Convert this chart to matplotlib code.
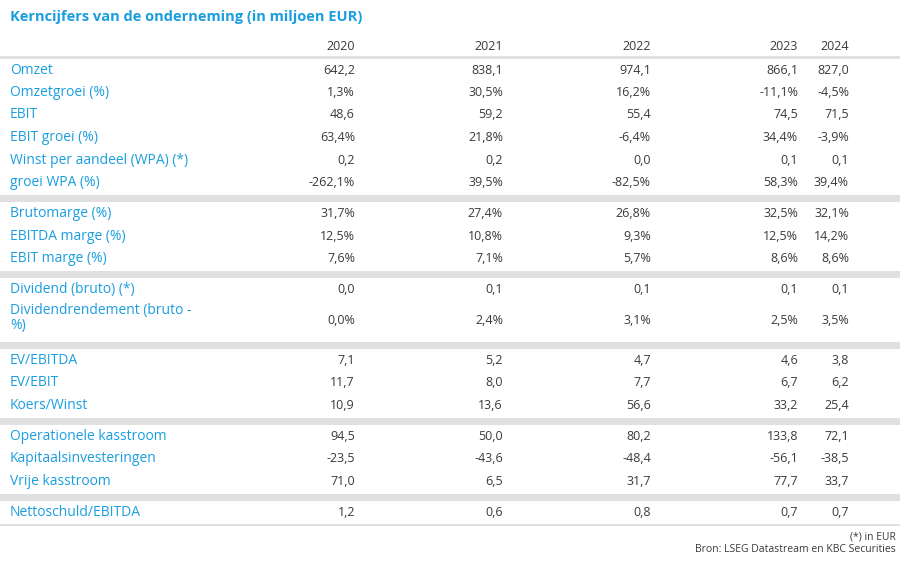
import matplotlib.pyplot as plt
from matplotlib.patches import Rectangle

years = ["2020", "2021", "2022", "2023", "2024"]
groups = [
    [("Omzet", ["642,2", "838,1", "974,1", "866,1", "827,0"]),
     ("Omzetgroei (%)", ["1,3%", "30,5%", "16,2%", "-11,1%", "-4,5%"]),
     ("EBIT", ["48,6", "59,2", "55,4", "74,5", "71,5"]),
     ("EBIT groei (%)", ["63,4%", "21,8%", "-6,4%", "34,4%", "-3,9%"]),
     ("Winst per aandeel (WPA) (*)", ["0,2", "0,2", "0,0", "0,1", "0,1"]),
     ("groei WPA (%)", ["-262,1%", "39,5%", "-82,5%", "58,3%", "39,4%"])],
    [("Brutomarge (%)", ["31,7%", "27,4%", "26,8%", "32,5%", "32,1%"]),
     ("EBITDA marge (%)", ["12,5%", "10,8%", "9,3%", "12,5%", "14,2%"]),
     ("EBIT marge (%)", ["7,6%", "7,1%", "5,7%", "8,6%", "8,6%"])],
    [("Dividend (bruto) (*)", ["0,0", "0,1", "0,1", "0,1", "0,1"]),
     ("Dividendrendement (bruto -\n%)", ["0,0%", "2,4%", "3,1%", "2,5%", "3,5%"])],
    [("EV/EBITDA", ["7,1", "5,2", "4,7", "4,6", "3,8"]),
     ("EV/EBIT", ["11,7", "8,0", "7,7", "6,7", "6,2"]),
     ("Koers/Winst", ["10,9", "13,6", "56,6", "33,2", "25,4"])],
    [("Operationele kasstroom", ["94,5", "50,0", "80,2", "133,8", "72,1"]),
     ("Kapitaalsinvesteringen", ["-23,5", "-43,6", "-48,4", "-56,1", "-38,5"]),
     ("Vrije kasstroom", ["71,0", "6,5", "31,7", "77,7", "33,7"])],
    [("Nettoschuld/EBITDA", ["1,2", "0,6", "0,8", "0,7", "0,7"])],
]

blue = "#1a9ee0"
dark = "#3a3a3a"
gray = "#e0e0e0"
col_x = [355, 503, 651, 798, 849]
plt.rcParams['font.family'] = ['Open Sans', 'DejaVu Sans']

fig = plt.figure(figsize=(9, 5.72), dpi=100)
ax = fig.add_axes([0, 0, 1, 1])
ax.set_xlim(0, 900)
ax.set_ylim(572, 0)
ax.axis("off")

ax.text(10, 17, "Kerncijfers van de onderneming (in miljoen EUR)", color=blue,
        fontsize=10.5, fontweight="bold", va="center")
for x, yr in zip(col_x, years):
    ax.text(x, 46, yr, ha="right", va="center", fontsize=9, color=dark)
ax.add_patch(Rectangle((0, 56), 900, 3, color=gray, lw=0))

y = 70
row_h = 22.5
for gi, rows in enumerate(groups):
    for label, vals in rows:
        two = "\n" in label
        ax.text(10, y + (6 if two else 0), label, color=blue, fontsize=10,
                va="center", linespacing=1.0)
        for x, v in zip(col_x, vals):
            ax.text(x, y + (8 if two else 0), v, ha="right", va="center",
                    fontsize=9, color=dark)
        y += 40 if two else row_h
    if gi < len(groups) - 1:
        ax.add_patch(Rectangle((0, y - 10), 900, 7, color=gray, lw=0))
        y += 8.5
    else:
        ax.add_patch(Rectangle((0, y - 11), 900, 2, color=gray, lw=0))

ax.text(896, 537, "(*) in EUR", ha="right", va="center", fontsize=7.5, color=dark)
ax.text(896, 550, "Bron: LSEG Datastream en KBC Securities", ha="right",
        va="center", fontsize=7.5, color=dark)

fig.savefig("out.png", dpi=100)
